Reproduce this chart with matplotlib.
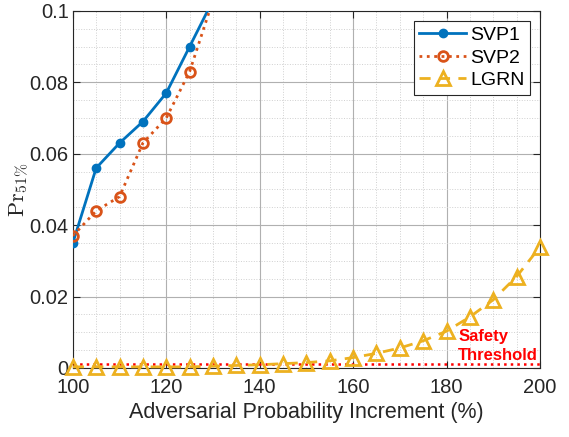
import numpy as np
import matplotlib
matplotlib.use("Agg")
import matplotlib.pyplot as plt
from matplotlib.ticker import MultipleLocator

x_svp = [100, 105, 110, 115, 120, 125, 130]
svp1 = [0.035, 0.056, 0.063, 0.069, 0.077, 0.090, 0.103]
svp2 = [0.037, 0.044, 0.048, 0.063, 0.070, 0.083, 0.103]
x_lgrn = [100, 105, 110, 115, 120, 125, 130, 135, 140, 145, 150, 155, 160,
          165, 170, 175, 180, 185, 190, 195, 200]
lgrn = [0.0003, 0.0003, 0.0003, 0.0003, 0.0003, 0.0003, 0.0005, 0.0007, 0.0009,
        0.0012, 0.0015, 0.0020, 0.0029, 0.0041, 0.0056, 0.0076, 0.0103,
        0.0143, 0.0191, 0.0256, 0.0339]
threshold = 0.001
labels = ["SVP1", "SVP2", "LGRN"]

plt.rcParams['font.family'] = ['Liberation Sans', 'DejaVu Sans']
plt.rcParams['mathtext.fontset'] = 'cm'

fig = plt.figure(figsize=(5.69, 4.37), dpi=100)
ax = fig.add_axes([0.128, 0.158, 0.821, 0.817])

c1, c2, c3 = '#0072BD', '#D95319', '#EDB120'
ax.plot(x_svp, svp1, '-', color=c1, lw=2, marker='o', ms=6, mfc=c1, mec=c1, label=labels[0], zorder=4)
ax.plot(x_svp, svp2, ':', color=c2, lw=2, marker='o', ms=7, mfc='none', mec=c2, mew=2, label=labels[1], zorder=4)
ax.plot(x_lgrn, lgrn, '--', color=c3, lw=2, dashes=(4, 3), marker='^', ms=9.5, mfc='none', mec=c3, mew=2,
        label=labels[2], zorder=4, clip_on=False)
ax.axhline(threshold, color='red', ls=':', lw=1.8, zorder=3)
ax.text(182.5, 0.0088, "Safety", color='red', fontweight='bold', fontsize=12, va='center', ha='left')
ax.text(182.5, 0.0035, "Threshold", color='red', fontweight='bold', fontsize=12, va='center', ha='left')

ax.set_xlim(100, 200)
ax.set_ylim(0, 0.1)
ax.set_xticks([100, 120, 140, 160, 180, 200])
ax.set_yticks([0, 0.02, 0.04, 0.06, 0.08, 0.1])
ax.set_yticklabels(['0', '0.02', '0.04', '0.06', '0.08', '0.1'])
ax.xaxis.set_minor_locator(MultipleLocator(5))
ax.yaxis.set_minor_locator(MultipleLocator(0.005))
ax.grid(True, which='major', color='#b0b0b0', lw=0.8, ls='-')
ax.grid(True, which='minor', color='#d0d0d0', lw=0.7, ls=':')
ax.tick_params(which='both', direction='in', top=True, right=True, labelsize=14.5, colors='#262626')
ax.tick_params(axis='x', pad=7)
ax.tick_params(axis='y', pad=3)
ax.tick_params(which='minor', length=0)
ax.tick_params(which='major', length=5)
for s in ax.spines.values():
    s.set_color('#262626')
    s.set_linewidth(0.8)
ax.set_axisbelow(True)

ax.set_xlabel("Adversarial Probability Increment (%)", fontsize=15.5, color='#262626', labelpad=4)
ax.set_ylabel(r"$\mathrm{Pr}_{51\%}$", fontsize=16, color='#262626', labelpad=-1)

leg = ax.legend(loc='upper right', fontsize=14, fancybox=False, edgecolor='#262626', framealpha=1,
                handlelength=2.4, borderaxespad=0.5, handletextpad=0.2, labelspacing=0.25, borderpad=0.3)
leg.get_frame().set_linewidth(0.8)

fig.savefig("out.png", dpi=100)
